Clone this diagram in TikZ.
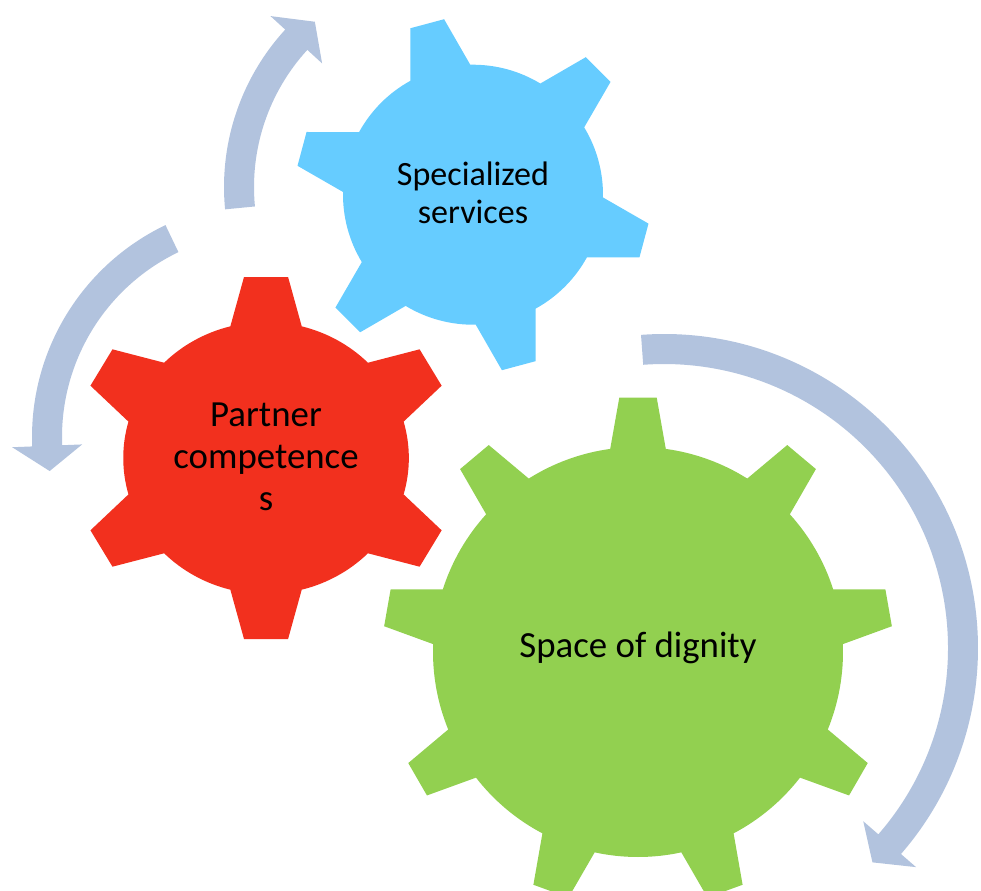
\documentclass[tikz,border=0pt]{standalone}
\usepackage{fontspec}
\setmainfont{Carlito}
\definecolor{GearBlue}{RGB}{102,204,255}
\definecolor{GearRed}{RGB}{242,48,30}
\definecolor{GearGreen}{RGB}{146,208,80}
\definecolor{CycleBlue}{RGB}{178,195,222}

% #1 fill options, #2 hub, #3 teeth, #4 first tooth angle,
% #5 body radius, #6 tooth half width at body, #7 tooth length, #8 tooth half width at tip
\newcommand{\drawgear}[8]{%
  \pgfmathsetmacro\gbase{asin(#6/#5)}%
  \pgfmathsetmacro\gtip{atan(#8/#7)}%
  \pgfmathsetmacro\gtipr{#7/cos(\gtip)}%
  \pgfmathsetmacro\gstep{360/#3}%
  \pgfmathtruncatemacro\glast{#3-1}%
  \fill[#1, shift={#2}] ({#4-\gbase}:#5)
    \foreach \k in {0,...,\glast}{
      -- ({#4+\k*\gstep-\gbase}:#5) -- ({#4+\k*\gstep-\gtip}:\gtipr)
      -- ({#4+\k*\gstep+\gtip}:\gtipr) -- ({#4+\k*\gstep+\gbase}:#5)
      arc[start angle={#4+\k*\gstep+\gbase}, end angle={#4+(\k+1)*\gstep-\gbase}, radius=#5]
    } -- cycle;%
}
% #1 hub, #2 radius, #3 tail angle, #4 head base angle, #5 tip angle
\newcommand{\cyclearrow}[5]{%
  \fill[loop arrow, shift={#1}] ({#3}:{#2+15})
    arc[start angle=#3, end angle=#4, radius=#2+15]
    -- ({#4}:{#2+35}) -- ({#5}:#2) -- ({#4}:{#2-35}) -- ({#4}:{#2-15})
    arc[start angle=#4, end angle=#3, radius=#2-15] -- cycle;%
}

\begin{document}
\begin{tikzpicture}[
    x=0.025cm, y=0.025cm,
    loop arrow/.style={fill=CycleBlue},
    gear text/.style={align=center, text=black, font=\fontsize{26.2}{29.8}\selectfont}
  ]
    \useasboundingbox (0,0) rectangle (981,-890);

    \coordinate (services hub) at (473,-194.7);
    \coordinate (partner hub) at (266,-458);
    \coordinate (dignity hub) at (638,-652);

    % gears
    \drawgear{GearBlue}{(services hub)}{6}{105}{130}{31}{177}{17.5}
    \drawgear{GearRed, xscale=1.05}{(partner hub)}{6}{90}{136}{34}{181}{21}
    \drawgear{GearGreen}{(dignity hub)}{9}{90}{205}{27.8}{254.5}{18.7}

    \node[gear text, font=\fontsize{24.2}{26.7}\selectfont] (services) at ([yshift=1.5]services hub) {Specialized\\services};
    \node[gear text] (partner) at ([yshift=1]partner hub) {Partner\\competence\\s};
    \node[gear text] (dignity) at ([yshift=3]dignity hub) {Space of dignity};

    % circular arrows
    \cyclearrow{(457,-187)}{218}{185.5}{137.5}{130.7}
    \cyclearrow{(267,-437)}{220}{115.6}{182.3}{188.9}
    \cyclearrow{(664,-648)}{299}{94.2}{-41}{-45.8}
  \end{tikzpicture}
\end{document}
